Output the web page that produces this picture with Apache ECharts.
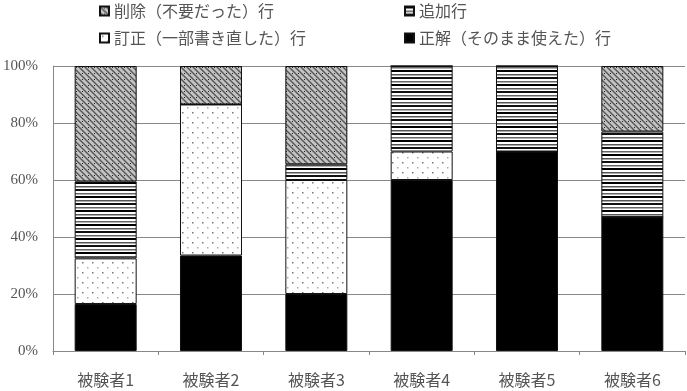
<!DOCTYPE html>
<html><head><meta charset="utf-8">
<script src="https://cdn.jsdelivr.net/npm/echarts@6/dist/echarts.min.js"></script>
<style>html,body{margin:0;padding:0;background:#fff}#c{width:687px;height:391px}</style>
</head><body><div id="c"></div>
<script>
const categories = ['被験者1','被験者2','被験者3','被験者4','被験者5','被験者6'];
const seriesNames = ['正解（そのまま使えた）行','訂正（一部書き直した）行','追加行','削除（不要だった）行'];
const correct = [16.5, 33.5, 20, 60, 70, 47];
const revised = [16, 53, 40, 10, 0, 0];
const added = [27, 0, 5.5, 30, 30, 30];
const deleted = [40.5, 13.5, 34.5, 0, 0, 23];
const yTicks = [0, 20, 40, 60, 80, 100];

function tile(w, h, draw) {
  const c = document.createElement('canvas');
  c.width = w; c.height = h;
  const g = c.getContext('2d');
  g.fillStyle = '#fff'; g.fillRect(0, 0, w, h);
  draw(g);
  return { image: c, repeat: 'repeat' };
}
const dots = tile(10, 10, g => {
  g.fillStyle = '#777'; g.fillRect(2, 2, 1.5, 1.5);
  g.fillStyle = '#aaa'; g.fillRect(7, 7, 1.5, 1.5);
});
const stripes = tile(8, 14, g => {
  g.fillStyle = '#000';
  g.fillRect(0, 0, 8, 2);
  g.fillStyle = '#555';
  g.fillRect(0, 4, 8, 1.5);
  g.fillStyle = '#111';
  g.fillRect(0, 7, 8, 2);
  g.fillStyle = '#666';
  g.fillRect(0, 11, 8, 1.5);
});
const hatch = tile(6, 6, g => {
  g.fillStyle = '#c4c4c4'; g.fillRect(0, 0, 6, 6);
  g.strokeStyle = '#555'; g.lineWidth = 1.4;
  g.beginPath();
  g.moveTo(-1, -1); g.lineTo(7, 7);
  g.moveTo(-4, 2); g.lineTo(4, 10);
  g.moveTo(2, -4); g.lineTo(10, 4);
  g.stroke();
  g.fillStyle = '#222'; g.fillRect(4, 1, 1, 1);
});
const fills = [{ color: '#000' }, dots, stripes, hatch];
const dataArr = [correct, revised, added, deleted];

const font = '"Noto Sans CJK JP", sans-serif';
const series = seriesNames.map((n, i) => ({
  name: n, type: 'bar', stack: 'all', barWidth: 62,
  data: dataArr[i],
  itemStyle: { color: fills[i].color || fills[i], borderColor: '#111', borderWidth: 1 },
  emphasis: { disabled: true }
}));

function leg(name, left, top) {
  return {
    data: [name], left: left, top: top, padding: 0, itemWidth: 9, itemHeight: 9, itemGap: 2,
    icon: 'rect', textStyle: { fontFamily: font, fontSize: 16, color: '#555' },
    selectedMode: false
  };
}

const chart = echarts.init(document.getElementById('c'), null, { renderer: 'canvas' });
chart.setOption({
  animation: false,
  backgroundColor: '#fff',
  legend: [
    leg('削除（不要だった）行', 99, 3),
    leg('追加行', 404, 3),
    leg('訂正（一部書き直した）行', 99, 30),
    leg('正解（そのまま使えた）行', 404, 30)
  ],
  grid: { left: 52, right: 2, top: 66, bottom: 40, containLabel: false },
  xAxis: {
    type: 'category', data: categories,
    axisLine: { lineStyle: { color: '#888' } },
    axisTick: { show: true, length: 4, lineStyle: { color: '#888' } },
    axisLabel: { fontFamily: font, fontSize: 16, color: '#555', margin: 21 }
  },
  yAxis: {
    type: 'value', min: yTicks[0], max: yTicks[yTicks.length - 1], interval: 20,
    axisLine: { show: true, lineStyle: { color: '#888' } },
    axisTick: { show: false },
    splitLine: { lineStyle: { color: '#888' } },
    axisLabel: { formatter: v => v + '%', fontFamily: '"Liberation Serif", serif', fontSize: 15, color: '#555', margin: 15 }
  },
  series: series
});
</script></body></html>
